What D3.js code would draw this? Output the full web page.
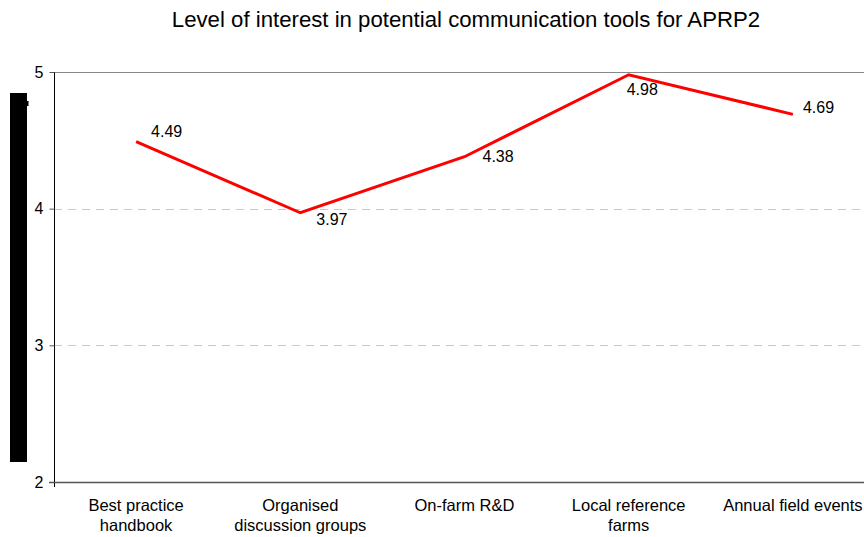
<!DOCTYPE html>
<html>
<head>
<meta charset="utf-8">
<script src="https://cdn.jsdelivr.net/npm/d3@7"></script>
<style>
  html, body { margin: 0; padding: 0; background: #fff; }
  svg { display: block; font-family: Arial, "Liberation Sans", sans-serif; }
</style>
</head>
<body>
<svg id="chart" width="864" height="537"></svg>
<script>
// Communication tools and mean interest score for each
const categories = [
  ["Best practice", "handbook"],
  ["Organised", "discussion groups"],
  ["On-farm R&D"],
  ["Local reference", "farms"],
  ["Annual field events"]
];
const values = [4.49, 3.97, 4.38, 4.98, 4.69];
const yTicks = [2, 3, 4, 5];
const title = "Level of interest in potential communication tools for APRP2";

// Where each value label sits relative to its point (dx, baseline dy)
const labelOffsets = [[15, -5], [16, 12], [18, 5], [-2, 20], [10, -1]];

const W = 864, H = 537;
const margin = { left: 54, top: 72, bottom: 55 };
const plotRight = 875;

const svg = d3.select("#chart");

const x = d3.scaleBand()
  .domain(d3.range(categories.length))
  .range([margin.left, plotRight]);

const y = d3.scaleLinear()
  .domain([2, 5])
  .range([H - margin.bottom, margin.top]);

// Title
svg.append("text")
  .attr("x", 466).attr("y", 27)
  .attr("text-anchor", "middle")
  .attr("font-size", 22.2)
  .attr("fill", "#000")
  .text(title);

// Black side block
svg.append("rect")
  .attr("x", 10).attr("y", 93)
  .attr("width", 17).attr("height", 369)
  .attr("fill", "#000");
svg.append("rect")
  .attr("x", 27).attr("y", 101)
  .attr("width", 1.5).attr("height", 5)
  .attr("fill", "#000");

// Horizontal gridlines
yTicks.forEach(t => {
  if (t === 2) return;
  const yy = Math.round(y(t)) + 0.5;
  svg.append("line")
    .attr("x1", margin.left).attr("x2", W)
    .attr("y1", yy).attr("y2", yy)
    .attr("stroke", t === 5 ? "#888" : "#c8c8c8")
    .attr("stroke-width", 1)
    .attr("stroke-dasharray", t === 5 ? null : "8,6");
});

// Y axis
const yAxis = d3.axisLeft(y)
  .tickValues(yTicks)
  .tickFormat(d3.format("d"))
  .tickSize(5)
  .tickPadding(6);
const gy = svg.append("g")
  .attr("transform", `translate(${margin.left + 0.5},0)`)
  .call(yAxis);
gy.select(".domain").attr("stroke", "#000").attr("d", `M0,${y(5)}V${y(2) + 5}`);
gy.selectAll(".tick line").attr("stroke", "#555");
gy.selectAll(".tick text")
  .attr("font-size", 16)
  .attr("fill", "#000")
  .attr("font-family", "Arial, 'Liberation Sans', sans-serif");

// X axis baseline
svg.append("line")
  .attr("x1", margin.left - 5).attr("x2", W)
  .attr("y1", Math.round(y(2)) + 0.5).attr("y2", Math.round(y(2)) + 0.5)
  .attr("stroke", "#555").attr("stroke-width", 1.5);

// Category labels
const cx = i => x(i) + x.bandwidth() / 2;
categories.forEach((lines, i) => {
  const t = svg.append("text")
    .attr("x", cx(i))
    .attr("y", 511)
    .attr("text-anchor", "middle")
    .attr("font-size", 16.5)
    .attr("fill", "#000");
  lines.forEach((ln, j) => {
    t.append("tspan")
      .attr("x", cx(i))
      .attr("dy", j === 0 ? 0 : 20)
      .text(ln);
  });
});

// Series line
const line = d3.line()
  .x((d, i) => cx(i))
  .y(d => y(d));
svg.append("path")
  .datum(values)
  .attr("d", line)
  .attr("fill", "none")
  .attr("stroke", "#ff0000")
  .attr("stroke-width", 3)
  .attr("stroke-linejoin", "miter");

// Value labels
svg.selectAll(".vlabel")
  .data(values)
  .join("text")
  .attr("class", "vlabel")
  .attr("x", (d, i) => cx(i) + labelOffsets[i][0])
  .attr("y", (d, i) => y(d) + labelOffsets[i][1])
  .attr("font-size", 16)
  .attr("fill", "#000")
  .text(d => d.toFixed(2));
</script>
</body>
</html>
